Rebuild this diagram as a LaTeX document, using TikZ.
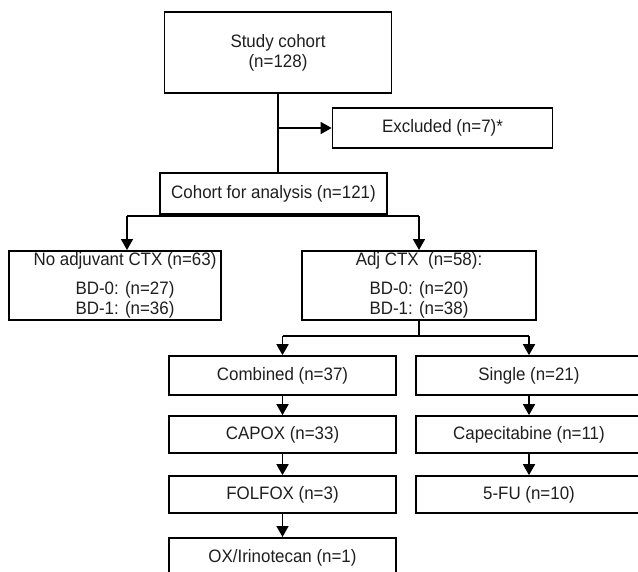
\documentclass[tikz,border=0pt]{standalone}
\usepackage{fontspec}
\setmainfont{Liberation Sans}[FakeStretch=0.94]
\usetikzlibrary{arrows.meta,calc}
\begin{document}
\begin{tikzpicture}[x=1pt,y=-1pt,
  box/.style={draw=black,line width=1.7pt,fill=white,inner sep=0pt,align=center,
    font=\fontsize{18}{20}\selectfont,text=black!88},
  txt/.style={inner sep=0pt,align=center,font=\fontsize{18}{20}\selectfont,text=black!88},
  conn/.style={line width=1.7pt},
  arr/.style={line width=1.7pt,-{Triangle[width=12pt,length=11pt]}}]
\useasboundingbox (0,0) rectangle (638,571);
\clip (0,0) rectangle (638,571);
% nodes
\node[box,minimum width=227pt,minimum height=81pt] (study) at (278,52.5) {Study cohort\\(n=128)};
\node[box,minimum width=220pt,minimum height=40pt] (excl) at (442.5,128) {Excluded (n=7)*};
\node[box,minimum width=227pt,minimum height=41pt] (cohort) at (273.5,193.5) {Cohort for analysis (n=121)};
\node[box,minimum width=212pt,minimum height=69pt,anchor=north] (noadj) at (115,250) {};
\node[txt] (noadjtxt) at ($(noadj.center)+(10,0)$)
  {No adjuvant CTX (n=63)\\[9pt]BD-0: (n=27)\\BD-1: (n=36)};
\node[box,minimum width=234pt,minimum height=69pt,anchor=north] (adj) at (419,250)
  {Adj CTX\ \ (n=58):\\[9pt]BD-0: (n=20)\\BD-1: (n=38)};
\node[box,minimum width=227pt,minimum height=39pt] (comb) at (282.5,375.5) {Combined (n=37)};
\node[box,minimum width=226pt,minimum height=39pt] (single) at (529,375.5) {Single (n=21)};
\node[box,minimum width=227pt,minimum height=37pt] (capox) at (282.5,434.5) {CAPOX (n=33)};
\node[box,minimum width=226pt,minimum height=37pt] (cape) at (529,434.5) {Capecitabine (n=11)};
\node[box,minimum width=227pt,minimum height=37pt] (folfox) at (282.5,494.5) {FOLFOX (n=3)};
\node[box,minimum width=226pt,minimum height=37pt] (fu) at (529,494.5) {5-FU (n=10)};
\node[box,minimum width=227pt,minimum height=40pt,anchor=north] (ox) at (282.5,537) {OX/Irinotecan (n=1)};
% connectors
\draw[conn] (study.south) -- (study.south |- cohort.north);
\draw[arr] (study.south |- excl.west) -- (excl.west);
\coordinate (bl) at (127,216);
\coordinate (br) at (419,216);
\draw[conn] (bl) -- (br);
\draw[arr] (bl) -- (bl |- noadj.north);
\draw[arr] (br) -- (adj.north);
\coordinate (sl) at (282.5,336);
\coordinate (sr) at (529,336);
\draw[conn] (adj.south) -- (adj.south |- sl);
\draw[conn] (sl) -- (sr);
\draw[arr] (sl) -- (comb.north);
\draw[arr] (sr) -- (single.north);
\draw[arr] (comb) -- (capox);
\draw[arr] (capox) -- (folfox);
\draw[arr] (folfox) -- (ox);
\draw[arr] (single) -- (cape);
\draw[arr] (cape) -- (fu);
\end{tikzpicture}
\end{document}
